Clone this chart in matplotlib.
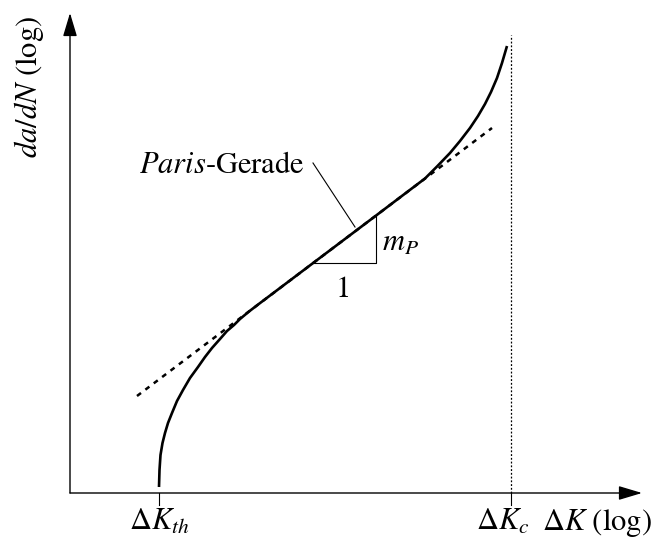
import matplotlib
matplotlib.use("Agg")
import matplotlib.pyplot as plt
import numpy as np

plt.rcParams['font.family'] = 'STIXGeneral'
plt.rcParams['mathtext.fontset'] = 'stix'

# schematic crack growth curve, log(dK) vs log(da/dN), origin at axes crossing
curve_x = [89, 89.5, 90.5, 92.5, 95, 98, 102, 107, 113, 120, 128, 135, 142, 150, 157,
           164, 170, 179, 188, 243, 306, 330, 355, 367, 380, 390, 400, 408, 415,
           421, 427, 432, 437]
curve_y = [6, 23, 38, 50, 60, 70, 80, 92, 103, 115, 126, 136, 145, 154, 162,
           168, 174, 181.5, 188.4, 229.9, 277.4, 295.6, 314.5, 326.5, 340, 352,
           365, 377, 389, 401, 415, 430, 447]

paris_x = [67, 422]
paris_y = [97, 365]

dk_th = 89
dk_c = 441
dk_c_top = 458

tri_x = [243, 306, 306]
tri_y = [229.9, 229.9, 277.4]

leader_x = [243, 285]
leader_y = [330, 266]

fig = plt.figure(figsize=(6.62, 5.4), dpi=100)
ax = fig.add_axes([0, 0, 1, 1])
ax.set_xlim(-70, 592)
ax.set_ylim(-47, 493)
ax.axis('off')

# axes with arrows
arrow = dict(arrowstyle='-|>,head_length=1.2,head_width=0.36', lw=1.0,
             color='black', mutation_scale=12, shrinkA=0, shrinkB=0)
ax.annotate('', xy=(0, 480), xytext=(0, 0), arrowprops=arrow)
ax.annotate('', xy=(572, 0), xytext=(0, 0), arrowprops=arrow)

# ticks
ax.plot([dk_th, dk_th], [0, -12], color='black', lw=0.8)
ax.plot([dk_c, dk_c], [0, -12], color='black', lw=0.8)

# dK_c asymptote
ax.plot([dk_c, dk_c], [0, dk_c_top], color='black', lw=0.9, dashes=(1.5, 1.5))

# Paris line (dashed) and curve
ax.plot(paris_x, paris_y, color='black', lw=1.8, dashes=(2, 2.2))
ax.plot(curve_x, curve_y, color='black', lw=1.9, solid_capstyle='butt',
        solid_joinstyle='round')

# slope triangle and leader
ax.plot(tri_x, tri_y, color='black', lw=0.8)
ax.plot(leader_x, leader_y, color='black', lw=0.8)

fs = 22
ax.text(235, 320, r'$\mathit{Paris}$-Gerade', fontsize=fs, ha='right', va='baseline')
ax.text(312, 242, r'$m_P$', fontsize=fs, ha='left', va='baseline')
ax.text(273, 196, '1', fontsize=fs, ha='center', va='baseline')
ax.text(dk_th, -37, r'$\Delta K_{th}$', fontsize=fs, ha='center', va='baseline')
ax.text(dk_c - 8, -37, r'$\Delta K_c$', fontsize=fs, ha='center', va='baseline')
ax.text(472, -37, r'$\Delta K$ (log)', fontsize=fs, ha='left', va='baseline')
ax.text(-41, 406, r'$da/dN$ (log)', fontsize=fs, ha='center', va='center', rotation=90)

fig.savefig('out.png', dpi=100)
